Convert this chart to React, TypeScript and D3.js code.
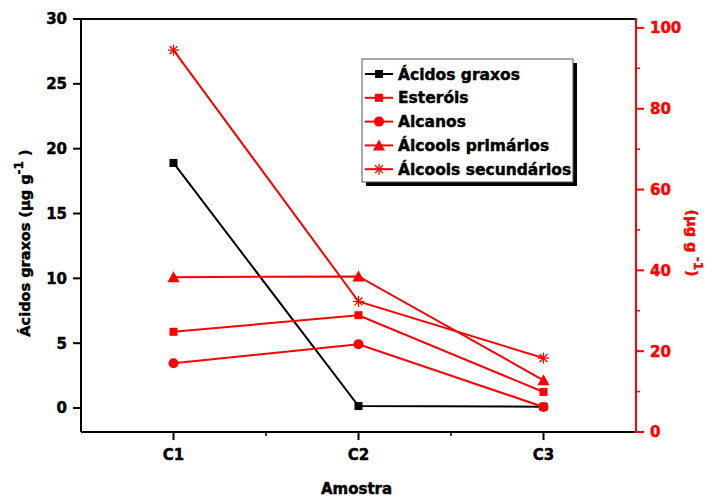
import React from "react";
import * as d3 from "d3";

const categories = ["C1", "C2", "C3"];

// left axis (µg g-1)
const acidosGraxos = [18.9, 0.15, 0.1];

// right axis (µg g-1)
const esterois = [24.8, 28.9, 9.9];
const alcanos = [17.0, 21.7, 6.2];
const alcooisPrimarios = [38.3, 38.5, 12.8];
const alcooisSecundarios = [94.5, 32.3, 18.3];

const leftTicks = [0, 5, 10, 15, 20, 25, 30];
const rightTicks = [0, 20, 40, 60, 80, 100];
const rightMinor = [10, 30, 50, 70, 90];

const series = [
  { name: "Ácidos graxos", values: acidosGraxos, color: "#000000", axis: "left", symbol: "square" },
  { name: "Esteróis", values: esterois, color: "#ff0000", axis: "right", symbol: "square" },
  { name: "Alcanos", values: alcanos, color: "#ff0000", axis: "right", symbol: "circle" },
  { name: "Álcoois primários", values: alcooisPrimarios, color: "#ff0000", axis: "right", symbol: "triangle" },
  { name: "Álcoois secundários", values: alcooisSecundarios, color: "#ff0000", axis: "right", symbol: "asterisk" },
];

const W = 712;
const H = 498;
const plot = { left: 81, right: 636, top: 19, bottom: 432 };
const FONT = "'DejaVu Sans', sans-serif";

// heavier text, the original uses a very bold face
const heavy = (color) => ({ fill: color, stroke: color, strokeWidth: 0.45 });

const Marker = ({ type, x, y, color }) => {
  if (type === "square") {
    return <rect x={x - 4} y={y - 4} width={8} height={8} fill={color} />;
  }
  if (type === "circle") {
    return <circle cx={x} cy={y} r={5} fill={color} />;
  }
  if (type === "triangle") {
    const p = d3.path();
    p.moveTo(x, y - 6);
    p.lineTo(x + 6, y + 5);
    p.lineTo(x - 6, y + 5);
    p.closePath();
    return <path d={p.toString()} fill={color} />;
  }
  // asterisk
  const r = 5.5;
  const lines = [0, 45, 90, 135].map((a) => {
    const rad = (a * Math.PI) / 180;
    return (
      <line
        key={a}
        x1={x - r * Math.cos(rad)}
        y1={y - r * Math.sin(rad)}
        x2={x + r * Math.cos(rad)}
        y2={y + r * Math.sin(rad)}
        stroke={color}
        strokeWidth={1.3}
      />
    );
  });
  return <g>{lines}</g>;
};

export default function App() {
  const x = d3.scaleLinear().domain([-0.5, 2.5]).range([plot.left, plot.right]);
  const yLeft = d3.scaleLinear().domain([-1.85, 30]).range([plot.bottom, plot.top]);
  const yRight = d3.scaleLinear().domain([0, 102.2]).range([plot.bottom, plot.top]);

  const line = (s) =>
    d3
      .line()
      .x((d, i) => x(i))
      .y((d) => (s.axis === "left" ? yLeft(d) : yRight(d)))(s.values);

  const legend = { x: 362, y: 59, w: 211, h: 123, row: 23.8 };

  return (
    <svg
      width={W}
      height={H}
      style={{ position: "absolute", left: 0, top: 0, background: "#fff" }}
      fontFamily={FONT}
      fontWeight="bold"
    >
      {/* frame */}
      <line x1={plot.left} x2={plot.right} y1={plot.top} y2={plot.top} stroke="#000" strokeWidth={2} />
      <line x1={plot.left} x2={plot.right} y1={plot.bottom} y2={plot.bottom} stroke="#000" strokeWidth={2} />
      <line x1={plot.left} x2={plot.left} y1={plot.top} y2={plot.bottom} stroke="#000" strokeWidth={2} />
      <line x1={plot.right} x2={plot.right} y1={plot.top - 1} y2={plot.bottom + 1} stroke="#ff0000" strokeWidth={2} />

      {/* left axis */}
      {leftTicks.map((t) => (
        <g key={t} transform={`translate(${plot.left},${yLeft(t)})`}>
          <line x1={-8} x2={0} stroke="#000" strokeWidth={2} />
          <text x={-14} dy="0.36em" textAnchor="end" fontSize={15} {...heavy("#000")}>
            {t}
          </text>
        </g>
      ))}

      {/* right axis */}
      {rightTicks.map((t) => (
        <g key={t} transform={`translate(${plot.right},${yRight(t)})`}>
          <line x1={0} x2={8} stroke="#ff0000" strokeWidth={2} />
          <text x={14} dy="0.36em" textAnchor="start" fontSize={15} {...heavy("#ff0000")}>
            {t}
          </text>
        </g>
      ))}
      {rightMinor.map((t) => (
        <line key={t} x1={plot.right} x2={plot.right + 4} y1={yRight(t)} y2={yRight(t)} stroke="#ff0000" strokeWidth={1.5} />
      ))}

      {/* bottom axis */}
      {categories.map((c, i) => (
        <g key={c} transform={`translate(${x(i)},${plot.bottom})`}>
          <line y1={0} y2={8} stroke="#000" strokeWidth={2} />
          <text y={28} textAnchor="middle" fontSize={15} {...heavy("#000")}>
            {c}
          </text>
        </g>
      ))}
      {[0.5, 1.5].map((m) => (
        <line key={m} x1={x(m)} x2={x(m)} y1={plot.bottom} y2={plot.bottom + 4} stroke="#000" strokeWidth={1.5} />
      ))}

      {/* axis titles */}
      <text x={(plot.left + plot.right) / 2 - 2} y={494} textAnchor="middle" fontSize={15} {...heavy("#000")}>
        Amostra
      </text>
      <text transform="translate(30,243) rotate(-90)" textAnchor="middle" fontSize={14.5} {...heavy("#000")}>
        Ácidos graxos (µg g<tspan dy={-7} fontSize={12}>-1</tspan>
        <tspan dy={7}> )</tspan>
      </text>
      <text transform="translate(687,243) rotate(90)" textAnchor="middle" fontSize={14.5} {...heavy("#ff0000")}>
        (µg g<tspan dy={-7} fontSize={12}> -1</tspan>
        <tspan dy={7}>)</tspan>
      </text>

      {/* series */}
      {series.map((s) => (
        <g key={s.name}>
          <path d={line(s)} fill="none" stroke={s.color} strokeWidth={2} />
          {s.values.map((v, i) => (
            <Marker
              key={i}
              type={s.symbol}
              x={x(i)}
              y={s.axis === "left" ? yLeft(v) : yRight(v)}
              color={s.color}
            />
          ))}
        </g>
      ))}

      {/* legend */}
      <rect x={legend.x + 4} y={legend.y + 4} width={legend.w} height={legend.h} fill="#000" />
      <rect x={legend.x} y={legend.y} width={legend.w} height={legend.h} fill="#fff" stroke="#555" strokeWidth={1} />
      {series.map((s, i) => {
        const cy = legend.y + 15 + i * legend.row;
        return (
          <g key={s.name}>
            <line x1={legend.x + 3} x2={legend.x + 31} y1={cy} y2={cy} stroke={s.color} strokeWidth={2} />
            <Marker type={s.symbol} x={legend.x + 17} y={cy} color={s.color} />
            <text x={legend.x + 36} y={cy} dy="0.36em" fontSize={15.5} {...heavy("#000")}>
              {s.name}
            </text>
          </g>
        );
      })}
    </svg>
  );
}
